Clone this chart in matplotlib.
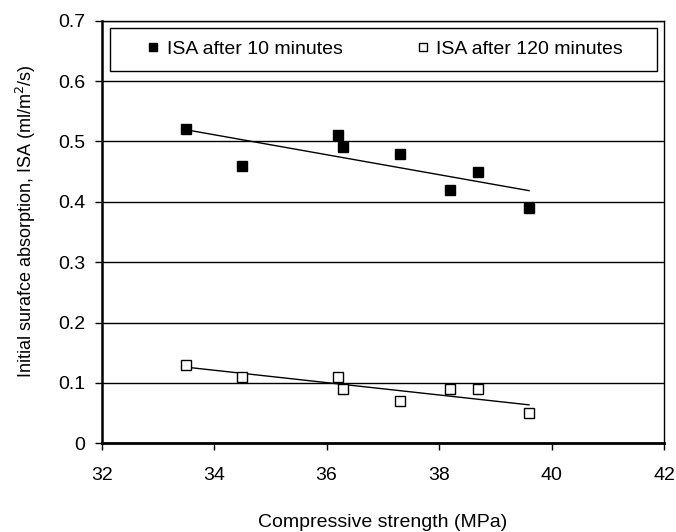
import matplotlib
matplotlib.use("Agg")
import matplotlib.pyplot as plt
from matplotlib.patches import Rectangle
import numpy as np

plt.rcParams['font.family'] = ['Liberation Sans', 'DejaVu Sans']

# compressive strength (MPa)
strength = [33.5, 34.5, 36.2, 36.3, 37.3, 38.2, 38.7, 39.6]
# ISA readings (ml/m2/s)
isa_10 = [0.52, 0.46, 0.51, 0.49, 0.48, 0.42, 0.45, 0.39]
isa_120 = [0.13, 0.11, 0.11, 0.09, 0.07, 0.09, 0.09, 0.05]

fig = plt.figure(figsize=(6.76, 5.32), dpi=100)
ax = fig.add_axes([0.1504, 0.1667, 0.8318, 0.7944])

h1, = ax.plot(strength, isa_10, 's', color='black', ms=7.2, zorder=3)
h2, = ax.plot(strength, isa_120, 's', mfc='white', mec='black', mew=1.0, ms=7.2, zorder=3)

# linear trendlines
xs = np.array([min(strength), max(strength)])
for ys in (isa_10, isa_120):
    k, b = np.polyfit(strength, ys, 1)
    ax.plot(xs, k * xs + b, color='black', lw=1.0, zorder=2)

ax.set_xlim(32, 42)
ax.set_ylim(0, 0.7)
ax.set_xticks([32, 34, 36, 38, 40, 42])
ax.set_yticks([0, 0.1, 0.2, 0.3, 0.4, 0.5, 0.6, 0.7])
ax.set_yticklabels(['0', '0.1', '0.2', '0.3', '0.4', '0.5', '0.6', '0.7'])
ax.yaxis.grid(True, color='black', lw=1.0)
ax.set_axisbelow(True)
ax.tick_params(labelsize=14, direction='out', length=5, width=1)
ax.tick_params(axis='x', pad=12)
ax.tick_params(axis='y', pad=7)
for s in ax.spines.values():
    s.set_linewidth(1.0)
ax.spines['bottom'].set_linewidth(2.0)
ax.spines['left'].set_linewidth(1.8)

ax.set_xlabel('Compressive strength (MPa)', fontsize=14, labelpad=22)
ax.set_ylabel('Initial surafce absorption, ISA (ml/m$^2$/s)', fontsize=13)
ax.yaxis.set_label_coords(-0.113, 0.526)

# legend box
ax.add_patch(Rectangle((0.0148, 0.881), 0.9727, 0.1017, transform=ax.transAxes,
                       facecolor='white', edgecolor='black', lw=1.0, zorder=4))
leg = ax.legend([h1, h2], ['ISA after 10 minutes', 'ISA after 120 minutes'],
                loc='center', bbox_to_anchor=(0.501, 0.932), ncol=2, fontsize=14,
                frameon=False, columnspacing=3.6, handletextpad=0.2, handlelength=1.0,
                markerscale=0.85)
leg.set_zorder(5)

fig.savefig('out.png', dpi=100)
